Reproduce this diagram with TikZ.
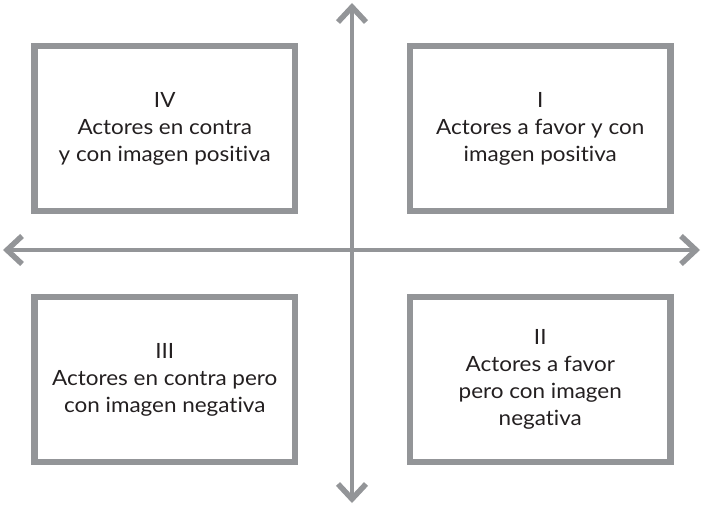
\documentclass[tikz,border=0pt]{standalone}
\usepackage{fontspec}
\setmainfont{Lato}[FakeStretch=1.07, RawFeature={-liga;-dlig;-clig}]
\usetikzlibrary{arrows.meta}
\definecolor{axisgrey}{HTML}{939598}
\definecolor{txt}{HTML}{231F20}
\tikzset{
  quadbox/.style={draw=axisgrey, line width=6.5pt, minimum width=260.5pt, minimum height=165pt,
    inner sep=0pt, align=center, font=\fontsize{21}{27}\selectfont, text=txt},
  axisline/.style={draw=axisgrey, line width=4.5pt,
    {Straight Barb[length=15pt,width=28pt,line width=5.5pt]}-{Straight Barb[length=15pt,width=28pt,line width=5.5pt]}}
}
\begin{document}
\begin{tikzpicture}[x=1pt,y=-1pt]
\useasboundingbox (0,0) rectangle (703,506);
\coordinate (top) at (352,3);
\coordinate (bottom) at (352,503);
\coordinate (left) at (3,250);
\coordinate (right) at (700,250);
\draw[axisline] (bottom) -- (top);
\draw[axisline] (left) -- (right);
\node[quadbox] (q4) at (164.75,128.5) {IV\\Actores en contra\\y con imagen positiva};
\node[quadbox] (q1) at (540.25,128.5) {I\\Actores a favor y con\\imagen positiva};
\node[quadbox] (q3) at (164.75,379.5) {III\\Actores en contra pero\\con imagen negativa};
\node[quadbox] (q2) at (540.25,379.5) {II\\Actores a favor\\pero con imagen\\negativa};
\end{tikzpicture}
\end{document}
